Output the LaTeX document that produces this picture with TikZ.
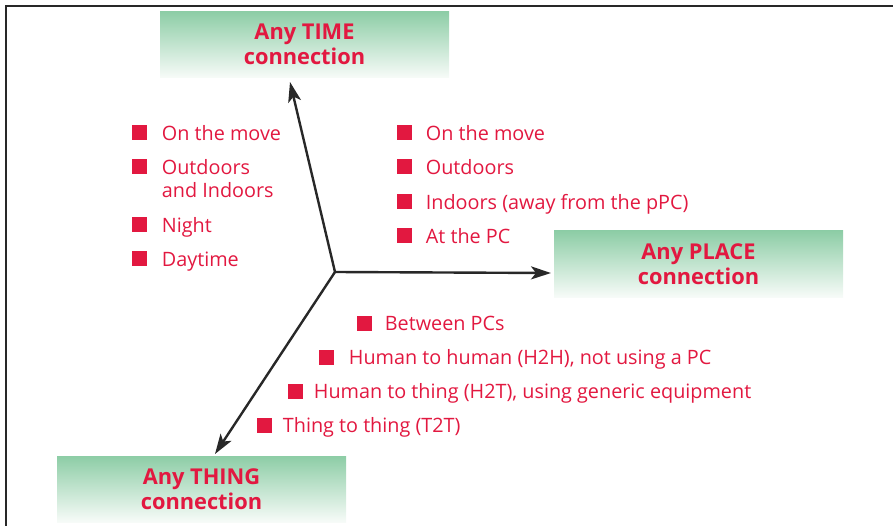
\documentclass[tikz,border=0pt]{standalone}
\usepackage{fontspec}
\setmainfont{Open Sans}
\usepackage{tikz}
\usetikzlibrary{arrows.meta,positioning,calc}
\definecolor{itemred}{RGB}{226,24,64}
\definecolor{boxtop}{RGB}{141,205,166}
\definecolor{boxbot}{RGB}{247,251,248}
\definecolor{framegray}{RGB}{40,40,40}

\begin{document}
\begin{tikzpicture}[x=1pt,y=-1pt,
  goal/.style={minimum width=289pt,minimum height=66pt,top color=boxtop,bottom color=boxbot,
    text=itemred,align=center,font=\fontsize{21.8}{25}\selectfont\bfseries},
  bul/.style={fill=itemred,minimum size=15pt,inner sep=0pt},
  itm/.style={text=itemred,inner sep=0pt,align=left,font=\fontsize{19.8}{23}\selectfont},
  axis/.style={line width=2.4pt,framegray,-{Stealth[length=20pt,width=13pt,inset=5pt]}}]
\useasboundingbox (0,0) rectangle (893,526);
% frame
\draw[line width=2.2pt,framegray] (6,526) -- (6,6) -- (893,6);
% the three goals
\node[goal] (time) at (304.5,44.5) {Any TIME\\connection};
\node[goal] (place) at (698.5,264) {Any PLACE\\connection};
\node[goal] (thing) at (201.5,489) {Any THING\\connection};
% axes
\coordinate (O) at (335,272);
\coordinate (timetip) at (290,82);
\coordinate (placetip) at (551,273);
\coordinate (thingtip) at (215,454);
\draw[axis] (O) -- (timetip);
\draw[axis] (O) -- (placetip);
\draw[axis] (O) -- (thingtip);
% time
\node[bul] (t1) at (139,133) {};
\node[itm,right=15pt of t1.south east,anchor=base west] {On the move};
\node[bul] (t2) at (139,167) {};
\node[itm,right=15pt of t2.south east,anchor=base west,yshift=-23pt] {Outdoors\\and Indoors};
\node[bul] (t3) at (139,225) {};
\node[itm,right=15pt of t3.south east,anchor=base west] {Night};
\node[bul] (t4) at (139,259) {};
\node[itm,right=15pt of t4.south east,anchor=base west] {Daytime};
% place
\node[bul] (p1) at (404,133) {};
\node[itm,right=14pt of p1.south east,anchor=base west] {On the move};
\node[bul] (p2) at (404,167) {};
\node[itm,right=14pt of p2.south east,anchor=base west] {Outdoors};
\node[bul] (p3) at (404,202) {};
\node[itm,right=14pt of p3.south east,anchor=base west] {Indoors (away from the pPC)};
\node[bul] (p4) at (404,236) {};
\node[itm,right=14pt of p4.south east,anchor=base west] {At the PC};
% thing
\node[bul] (h1) at (364,323) {};
\node[itm,right=13pt of h1.south east,anchor=base west] {Between PCs};
\node[bul] (h2) at (326,357) {};
\node[itm,right=15pt of h2.south east,anchor=base west] {Human to human (H2H), not using a PC};
\node[bul] (h3) at (295,391) {};
\node[itm,right=11pt of h3.south east,anchor=base west] {Human to thing (H2T), using generic equipment};
\node[bul] (h4) at (264,425) {};
\node[itm,right=11pt of h4.south east,anchor=base west] {Thing to thing (T2T)};
\end{tikzpicture}
\end{document}
